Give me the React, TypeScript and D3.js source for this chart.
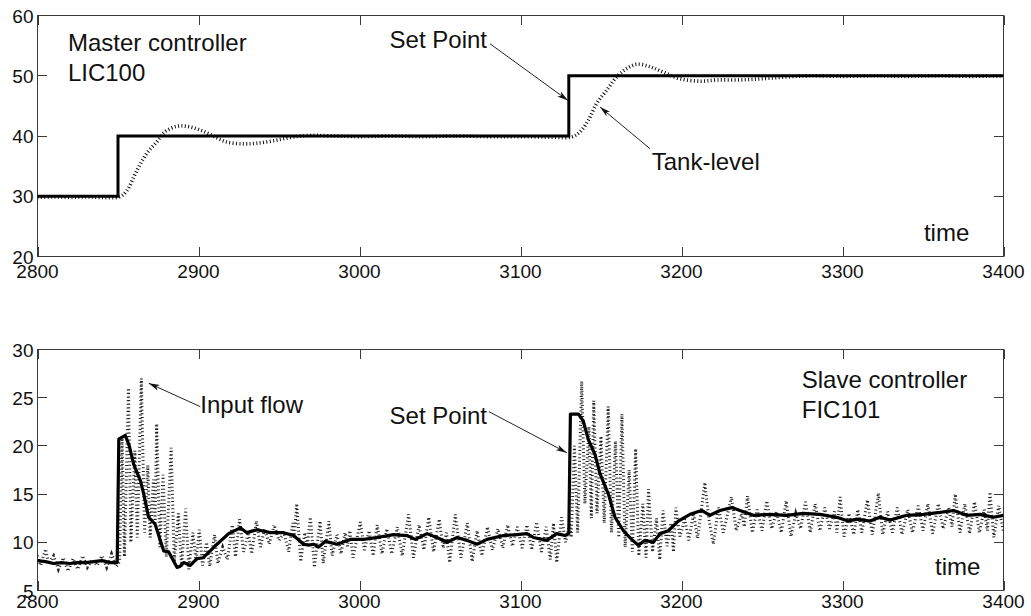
import React, { useEffect, useRef } from "react";
import * as d3 from "d3";

// axis ticks
const timeTicks = [2800, 2900, 3000, 3100, 3200, 3300, 3400];
const levelTicks = [20, 30, 40, 50, 60];
const flowTicks = [5, 10, 15, 20, 25, 30];

// master loop (LIC100): [time, level]
const levelSetPoint = [
  [2800, 30], [2850, 40], [3130, 50], [3400, 50],
];

const tankLevel = [
  [2800, 29.8], [2810, 29.9], [2820, 29.8], [2830, 29.9], [2840, 29.8], [2851, 29.9],
  [2855.4, 30.9], [2861.6, 34.2], [2867.8, 37.1], [2874, 39.0], [2879.2, 40.7],
  [2886.5, 41.6], [2892.6, 41.6], [2900.9, 41.0], [2909.2, 40.0], [2917.5, 39.0],
  [2927.8, 38.7], [2936, 38.8], [2946.5, 39.2], [2958, 39.8], [2970, 40.1],
  [2985, 40.0], [3000, 39.9], [3020, 40.0], [3040, 39.9], [3060, 40.0], [3080, 39.9],
  [3100, 39.9], [3120, 39.8], [3131.8, 39.85], [3137, 40.7], [3142.1, 42.6],
  [3147.3, 45.4], [3153.5, 47.6], [3159.7, 49.8], [3166, 51.2], [3172.2, 51.9],
  [3180.4, 51.5], [3188.7, 50.6], [3199, 49.5], [3211.5, 49.1], [3221.9, 49.3],
  [3236.3, 49.3], [3250, 49.5], [3265, 49.8], [3280, 50.0], [3300, 49.9], [3320, 50.0],
  [3340, 49.9], [3360, 50.0], [3380, 49.9], [3400, 50.0],
];

// slave loop (FIC101): [time, flow]
const flowSetPoint = [
  [2800, 8.1], [2805, 8.0], [2810, 7.8], [2815, 7.9], [2820, 7.8], [2825, 7.9],
  [2830, 7.9], [2835, 8.0], [2840, 8.1], [2845, 7.9], [2849.5, 7.9], [2850.5, 20.7],
  [2854.5, 21.1], [2857, 20.0], [2859.7, 18.1], [2863.9, 16.4], [2866, 15.0],
  [2869, 12.6], [2873, 11.9], [2878.4, 9.1], [2881.5, 9.0], [2886.6, 7.4], [2888.5, 7.5],
  [2890.8, 7.9], [2894.9, 7.6], [2899, 8.3], [2903, 8.4], [2911.5, 9.8], [2918.7, 10.9],
  [2926, 11.5], [2930, 11.0], [2936.3, 11.3], [2944.6, 11.0], [2952.9, 11.0],
  [2959, 10.7], [2965.3, 9.8], [2968.4, 9.7], [2971.5, 9.8], [2974.6, 9.5],
  [2978.8, 10.1], [2986, 9.8], [2994.3, 10.3], [3002.6, 10.3], [3010.9, 10.5],
  [3021.2, 10.8], [3029.5, 10.7], [3034.7, 10.3], [3041.9, 10.9], [3048, 10.5],
  [3054.4, 10.0], [3060.6, 10.5], [3066.8, 10.2], [3073, 9.8], [3079.2, 10.3],
  [3089.5, 10.7], [3097.8, 10.8], [3104, 10.9], [3108, 10.5], [3116.3, 10.2],
  [3122.5, 10.9], [3127.6, 10.7], [3130, 10.9], [3131, 23.3], [3136, 23.3],
  [3139, 22.6], [3142, 20.7], [3146.3, 19.1], [3149.4, 17.1], [3154.6, 15.0],
  [3158.7, 12.6], [3163.9, 11.2], [3169, 10.3], [3173.2, 9.7], [3177.3, 10.2],
  [3182.5, 10.0], [3186.7, 10.9], [3191.8, 11.2], [3198, 12.2], [3205.3, 12.9],
  [3212.5, 13.3], [3217.7, 12.8], [3223.9, 13.3], [3231.2, 13.6], [3236.3, 13.3],
  [3244.6, 12.8], [3255, 12.9], [3265.3, 12.8], [3275.7, 13.0], [3286, 12.9],
  [3296.4, 12.6], [3303.6, 12.2], [3308.8, 12.4], [3317.1, 12.2], [3323.3, 12.6],
  [3329.5, 12.3], [3339.9, 12.8], [3350.2, 12.9], [3360.6, 13.1], [3368.9, 13.3],
  [3377.1, 12.8], [3385.4, 12.9], [3393.7, 12.6], [3400, 12.8],
];

const inputFlow = [
  [2800, 8.6], [2802, 7.6], [2805, 9.3], [2807, 7.8], [2810, 8.6], [2813, 7.2],
  [2816, 8.4], [2819, 7.0], [2822, 8.3], [2825, 7.2], [2828, 8.6], [2831, 7.4],
  [2834, 8.2], [2837, 7.6], [2840, 8.6], [2843, 7.4], [2846, 8.8], [2849, 7.5],
  [2851, 8.0], [2852.5, 21.0], [2854, 8.5], [2856.5, 26.0], [2858, 10.0], [2860.5, 19.5],
  [2862, 10.5], [2864.5, 27.0], [2866.5, 11.0], [2868.5, 18.0], [2870, 10.5],
  [2872, 16.5], [2873, 12.0], [2874, 22.3], [2876, 9.5], [2878, 17.0], [2880, 8.5],
  [2883, 19.8], [2885, 8.0], [2887.5, 13.0], [2889.5, 7.5], [2892, 13.5], [2894, 7.2],
  [2896.5, 11.0], [2898.5, 8.0], [2900.5, 11.3], [2902.5, 7.6], [2905, 10.0],
  [2907, 7.5], [2910, 10.8], [2912, 7.8], [2915, 9.5], [2918, 8.2], [2921, 11.8],
  [2923, 8.5], [2925.5, 12.4], [2928, 9.0], [2931, 11.0], [2933, 8.8], [2936, 12.2],
  [2938.5, 9.5], [2941, 11.4], [2944, 9.8], [2947, 11.8], [2950, 10.2], [2953, 11.0],
  [2956, 9.0], [2958.5, 12.0], [2959.5, 10.5], [2961, 14.0], [2963.5, 8.0], [2966, 11.0],
  [2967.5, 9.6], [2969.5, 12.6], [2972, 7.4], [2975.5, 12.2], [2977.5, 7.8],
  [2981, 12.2], [2983, 8.6], [2986, 10.8], [2988.5, 8.8], [2991, 11.0], [2992.5, 9.6],
  [2994, 11.2], [2996, 8.4], [3000.5, 12.1], [3003, 9.2], [3006, 11.2], [3008.5, 8.6],
  [3011, 11.8], [3014, 8.8], [3017, 11.4], [3020, 8.8], [3023.5, 11.6], [3026.5, 8.6],
  [3030.5, 12.9], [3033.5, 8.4], [3037, 11.8], [3040, 9.2], [3043, 12.6], [3046, 9.0],
  [3049.5, 12.4], [3052, 9.4], [3054, 11.0], [3056, 7.9], [3059.5, 12.9], [3063, 8.4],
  [3067, 12.0], [3070, 8.0], [3073, 11.2], [3076, 8.6], [3079.5, 11.6], [3082.5, 9.2],
  [3086, 11.4], [3089, 9.4], [3092, 11.8], [3095, 9.6], [3098, 11.6], [3101, 9.4],
  [3104, 11.8], [3107, 9.2], [3110, 12.1], [3113, 9.0], [3116, 11.6], [3118.5, 8.2],
  [3120.5, 12.0], [3122.5, 7.9], [3125.5, 12.6], [3128, 10.0], [3130.5, 12.0],
  [3131.5, 10.5], [3133.5, 20.0], [3135.5, 11.0], [3138, 26.7], [3140, 14.0],
  [3142.5, 22.0], [3144, 12.5], [3145.5, 24.7], [3147.5, 13.0], [3150, 21.0],
  [3152, 12.0], [3154.5, 24.1], [3156.5, 11.0], [3159, 20.5], [3161, 10.5],
  [3163, 23.3], [3165, 9.5], [3167.5, 17.5], [3169.5, 9.0], [3171.5, 19.7],
  [3173.5, 8.6], [3176, 14.0], [3178, 8.4], [3179.5, 15.5], [3182, 9.0], [3184.5, 12.5],
  [3186.5, 8.2], [3188.5, 13.3], [3191, 9.6], [3193.5, 12.0], [3195, 9.0],
  [3196.5, 13.6], [3199, 10.6], [3202, 12.4], [3204.5, 10.2], [3207.5, 13.0],
  [3210, 10.4], [3214.5, 16.2], [3217, 12.4], [3219.8, 9.8], [3223, 13.6], [3226, 11.0],
  [3231, 14.7], [3234, 11.2], [3237.5, 13.0], [3239, 11.6], [3241, 14.8], [3244, 11.0],
  [3247, 13.4], [3250, 11.2], [3253, 14.3], [3256, 11.4], [3259, 13.2], [3262, 11.0],
  [3265, 14.3], [3268, 10.6], [3271, 13.0], [3274, 11.4], [3277, 14.2], [3280, 11.0],
  [3283, 14.0], [3286, 11.2], [3289, 13.6], [3292, 11.4], [3295, 13.2], [3296.5, 11.0],
  [3298.5, 14.7], [3301, 10.6], [3304, 13.0], [3307, 10.8], [3309.5, 13.4], [3312, 11.0],
  [3315.5, 14.4], [3318.5, 10.8], [3322.3, 15.1], [3325, 10.8], [3328, 13.2],
  [3331, 11.0], [3334, 13.6], [3337, 10.8], [3340.5, 13.4], [3343.5, 11.0],
  [3347, 13.8], [3350, 11.2], [3353, 14.0], [3356, 10.9], [3359.5, 14.0],
  [3362.5, 11.4], [3366, 13.6], [3368, 11.6], [3370, 15.0], [3373, 11.0], [3376, 14.0],
  [3379, 10.9], [3382, 14.2], [3385, 11.0], [3388, 13.4], [3390, 11.2], [3391.6, 15.2],
  [3394, 10.5], [3397, 13.8], [3400, 11.0],
];

export default function App() {
  const svgRef = useRef(null);

  useEffect(() => {
    const svg = d3.select(svgRef.current);
    svg.selectAll("*").remove();

    const font = "'Liberation Sans', Arial, Helvetica, sans-serif";
    const frameColor = "#3a3a3a";
    const tickLen = 9.5;

    const x = d3.scaleLinear().domain([2800, 3400]).range([37.5, 1003.5]);
    const yTop = d3.scaleLinear().domain([20, 60]).range([256.5, 15.5]);
    const yBot = d3.scaleLinear().domain([5, 30]).range([590.5, 349.5]);

    const defs = svg.append("defs");
    defs
      .append("marker")
      .attr("id", "arrowhead")
      .attr("viewBox", "0 0 11 6")
      .attr("refX", 11)
      .attr("refY", 3)
      .attr("markerWidth", 11)
      .attr("markerHeight", 6)
      .attr("markerUnits", "userSpaceOnUse")
      .attr("orient", "auto")
      .append("path")
      .attr("d", "M0,0 L11,3 L0,6 L3,3 Z")
      .attr("fill", "#111");

    // --- PANEL FRAME + TICKS ---
    const drawPanel = (key, y, yTicks, labelDy) => {
      const [yb, yt] = y.range();
      const [xl, xr] = x.range();

      defs
        .append("clipPath")
        .attr("id", `clip-${key}`)
        .append("rect")
        .attr("x", xl)
        .attr("y", yt)
        .attr("width", xr - xl)
        .attr("height", yb - yt);

      const g = svg.append("g");

      g.append("rect")
        .attr("x", xl)
        .attr("y", yt)
        .attr("width", xr - xl)
        .attr("height", yb - yt)
        .attr("fill", "none")
        .attr("stroke", frameColor)
        .attr("stroke-width", 1);

      const ticks = g.append("g").attr("stroke", frameColor).attr("stroke-width", 1);
      timeTicks.forEach((t) => {
        const px = Math.round(x(t)) + 0.5;
        ticks.append("line").attr("x1", px).attr("x2", px).attr("y1", yb).attr("y2", yb - tickLen);
        ticks.append("line").attr("x1", px).attr("x2", px).attr("y1", yt).attr("y2", yt + tickLen);
      });
      yTicks.forEach((v) => {
        const py = Math.round(y(v) - 0.5) + 0.5;
        ticks.append("line").attr("x1", xl).attr("x2", xl + tickLen).attr("y1", py).attr("y2", py);
        ticks.append("line").attr("x1", xr).attr("x2", xr - tickLen).attr("y1", py).attr("y2", py);
      });

      g.append("g")
        .selectAll("text")
        .data(timeTicks)
        .join("text")
        .attr("x", (d) => x(d))
        .attr("y", yb + labelDy)
        .attr("text-anchor", "middle")
        .style("font-family", font)
        .style("font-size", "19px")
        .style("fill", "#111")
        .text((d) => d);

      g.append("g")
        .selectAll("text")
        .data(yTicks)
        .join("text")
        .attr("x", xl - 4)
        .attr("y", (d) => y(d) + 7)
        .attr("text-anchor", "end")
        .style("font-family", font)
        .style("font-size", "19px")
        .style("fill", "#111")
        .text((d) => d);

      return svg.append("g").attr("clip-path", `url(#clip-${key})`);
    };

    const topPlot = drawPanel("top", yTop, levelTicks, 21);
    const botPlot = drawPanel("bottom", yBot, flowTicks, 17.5);

    const lineOf = (y, curve) =>
      d3.line().x((d) => x(d[0])).y((d) => y(d[1])).curve(curve);

    // --- TOP: tank level (dotted) + set point ---
    topPlot
      .append("path")
      .attr("d", lineOf(yTop, d3.curveCatmullRom)(tankLevel))
      .attr("fill", "none")
      .attr("stroke", "#111")
      .attr("stroke-width", 3.6)
      .attr("stroke-dasharray", "1 2.4");

    topPlot
      .append("path")
      .attr("d", lineOf(yTop, d3.curveStepAfter)(levelSetPoint))
      .attr("fill", "none")
      .attr("stroke", "#000")
      .attr("stroke-width", 3);

    // --- BOTTOM: input flow (dotted) + set point ---
    botPlot
      .append("path")
      .attr("d", lineOf(yBot, d3.curveLinear)(inputFlow))
      .attr("fill", "none")
      .attr("stroke", "#222")
      .attr("stroke-width", 3)
      .attr("stroke-dasharray", "1 2.6");

    botPlot
      .append("path")
      .attr("d", lineOf(yBot, d3.curveLinear)(flowSetPoint))
      .attr("fill", "none")
      .attr("stroke", "#000")
      .attr("stroke-width", 3.2)
      .attr("stroke-linejoin", "round");

    // --- ANNOTATIONS ---
    const label = (px, py, lines, anchor = "start") => {
      lines.forEach((s, i) => {
        svg
          .append("text")
          .attr("x", px)
          .attr("y", py + i * 30)
          .attr("text-anchor", anchor)
          .style("font-family", font)
          .style("font-size", "24px")
          .style("fill", "#111")
          .text(s);
      });
    };
    const arrow = (x1, y1, x2, y2) => {
      svg
        .append("line")
        .attr("x1", x1)
        .attr("y1", y1)
        .attr("x2", x2)
        .attr("y2", y2)
        .attr("stroke", "#222")
        .attr("stroke-width", 1)
        .attr("marker-end", "url(#arrowhead)");
    };

    label(x(2818.9), yTop(54.1), ["Master controller", "LIC100"]);
    label(x(3079.2), yTop(54.6), ["Set Point"], "end");
    arrow(x(3081.1), yTop(55.3), x(3129.5), yTop(45.9));
    label(x(3181.5), yTop(34.3), ["Tank-level"]);
    arrow(x(3180.4), yTop(37.9), x(3149.4), yTop(44.8));
    label(x(3350.6), yTop(22.5), ["time"]);

    label(x(2901.1), yBot(23.4), ["Input flow"]);
    arrow(x(2901.1), yBot(24.07), x(2869.1), yBot(26.5));
    label(x(3079.2), yBot(22.3), ["Set Point"], "end");
    arrow(x(3080.4), yBot(23.55), x(3128.7), yBot(19.3));
    label(x(3274.7), yBot(26.0), ["Slave controller", "FIC101"]);
    label(x(3357.5), yBot(6.6), ["time"]);
  }, []);

  return (
    <svg
      ref={svgRef}
      width="1031"
      height="616"
      style={{ position: "absolute", left: 0, top: 0, background: "#fff" }}
    ></svg>
  );
}
